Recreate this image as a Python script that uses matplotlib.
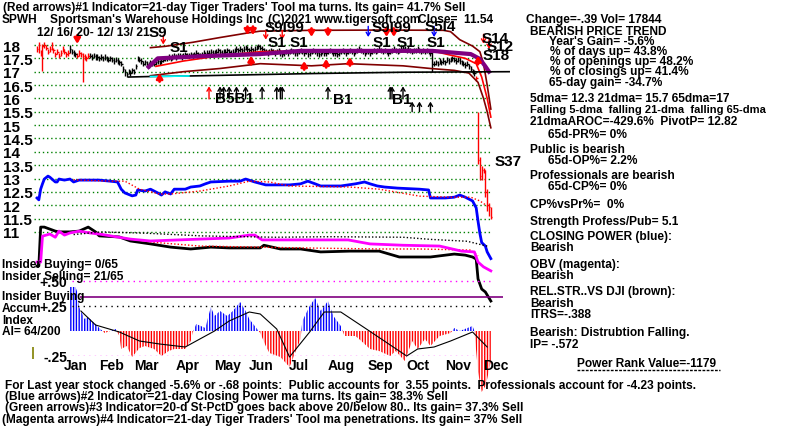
import numpy as np
import matplotlib
matplotlib.use("Agg")
import matplotlib.pyplot as plt
import matplotlib.transforms as mtransforms
from matplotlib import font_manager
from matplotlib.lines import Line2D

W, H = 800, 431
names = {f.name for f in font_manager.fontManager.ttflist}
if "Liberation Sans Narrow" in names:
  FONT, FS = "Liberation Sans Narrow", 10
else:
  FONT, FS = "Liberation Sans", 8.6
plt.rcParams["font.family"] = [FONT, "DejaVu Sans"]
plt.rcParams["font.weight"] = "bold"

# ---------------- data (trading-day index, 0 = 12/16/20) ----------------
close = [17.85, 18.0, 17.7, 17.95, 18.0, 17.9, 17.75, 17.85, 18.0, 17.8, 17.65,
         17.75, 17.6, 17.7, 17.85, 17.75, 17.65, 17.7,
         17.85, 17.75, 17.7,
         17.65, 17.6, 17.7, 17.65, 17.6, 17.55, 17.5, 17.6,
         17.6, 17.55, 17.6, 17.55, 17.55, 17.5, 17.55, 17.5, 17.55, 17.5, 17.45, 17.5, 17.45, 17.4, 17.45, 17.4, 17.35,
         17.3, 17.1, 17.0, 16.9, 17.0,
         16.95, 17.05, 17.0, 17.2,
         17.5, 17.45,
         17.4, 17.3, 17.35, 17.3, 17.25, 17.35, 17.3, 17.3, 17.35, 17.4, 17.35, 17.4,
         17.45, 17.5, 17.5, 17.55, 17.5, 17.55, 17.6, 17.55, 17.6, 17.6, 17.55, 17.6, 17.65, 17.6, 17.6, 17.65,
         17.6, 17.65, 17.7, 17.65, 17.6, 17.65,
         17.7, 17.65, 17.7, 17.7, 17.75, 17.7, 17.7, 17.75, 17.8, 17.75, 17.7, 17.75, 17.75, 17.8, 17.75, 17.7,
         17.75, 17.8, 17.85, 17.8,
         17.85, 17.8, 17.85, 17.9, 17.85, 17.8, 17.85, 17.8, 17.85, 17.9, 17.95, 17.9, 17.85, 17.8, 17.75,
         17.7, 17.75, 17.8, 17.75, 17.7, 17.75, 17.8, 17.7, 17.65, 17.7, 17.75, 17.7, 17.75, 17.8, 17.75, 17.7,
         17.7, 17.75, 17.8, 17.75,
         17.7, 17.75, 17.65, 17.7, 17.75, 17.8, 17.75, 17.7, 17.65, 17.7, 17.75, 17.7, 17.7, 17.75, 17.8,
         17.75, 17.7, 17.7, 17.65, 17.7, 17.75, 17.8, 17.75, 17.7, 17.75, 17.8, 17.75, 17.7, 17.75, 17.8,
         17.85, 17.8, 17.75, 17.7, 17.75,
         17.75, 17.7, 17.75, 17.8, 17.75, 17.8, 17.85, 17.8, 17.75, 17.8, 17.75, 17.7, 17.75, 17.8, 17.85,
         17.8, 17.75, 17.8, 17.85, 17.9, 17.85, 17.8, 17.85, 17.8, 17.75, 17.8,
         17.8, 17.85, 17.8, 17.75, 17.8, 17.75, 17.8, 17.75, 17.7,
         17.3,
         17.3, 17.35, 17.3, 17.4, 17.35, 17.4, 17.35, 17.45, 17.4, 17.45, 17.5, 17.45, 17.4, 17.45, 17.4,
         17.35, 17.3, 17.25, 17.3,
         17.2, 17.1, 17.0, 16.95,
         16.75, 13.7, 13.1, 13.3, 13.3, 12.5, 12.0, 11.93, 11.54]
spike_days = [1, 3, 8, 18, 25, 48, 216, 241, 242, 243, 244, 245, 246, 247, 248]
spike_hi = [18.1, 18.05, 18.1, 18.0, 17.7, 17.1, 17.8, 15.5, 13.8, 13.45, 13.4, 13.3, 12.6, 12.1, 11.95]
spike_lo = [17.7, 17.03, 17.8, 17.7, 16.6, 16.85, 17.0, 13.55, 12.95, 12.95, 13.2, 12.3, 11.8, 11.6, 11.5]
red_bar_spans = [(0, 17), (22, 28), (240, 248)]

ub_days = [62, 70, 85, 100, 115, 122, 150, 190, 222, 226, 231, 238, 242, 244, 246, 248]
ub_vals = [17.9, 17.95, 18.1, 18.28, 18.45, 18.52, 18.55, 18.56, 18.55, 18.5, 18.2, 17.96, 17.75, 17.3, 16.5, 15.6]
lb_days = [62, 80, 100, 122, 150, 170, 200, 215, 228, 236, 241, 244, 246, 248]
lb_vals = [16.85, 17.0, 17.12, 17.3, 17.22, 17.3, 17.22, 17.12, 17.05, 16.95, 16.6, 16.0, 15.5, 14.9]
ma21_days = [65, 80, 100, 122, 150, 190, 216, 226, 234, 240, 243, 246, 248]
ma21_vals = [17.2, 17.4, 17.6, 17.75, 17.78, 17.77, 17.78, 17.62, 17.5, 17.3, 16.8, 16.0, 15.3]
ma65_days = [61, 66, 90, 122, 144, 200, 216, 237, 242, 245, 247]
ma65_vals = [17.18, 17.5, 17.58, 17.66, 17.78, 17.78, 17.78, 17.66, 17.48, 17.2, 17.0]
sup_days = [50, 62, 83, 150, 200, 258]
sup_vals = [16.8, 16.82, 16.84, 16.93, 16.98, 17.0]

cp_days = [0, 1, 2, 3, 4, 6, 7, 10, 11, 12, 15, 18, 20, 23, 29, 34, 40, 44, 46, 48, 52, 54, 55, 59, 62, 66,
           68, 70, 73, 75, 81, 84, 89, 92, 95, 105, 111, 114, 119, 125, 138, 144, 148, 152, 155, 166, 174, 179,
           182, 186, 190, 197, 209, 214, 215, 223, 228, 231, 234, 238, 240, 241, 242, 243, 245, 246, 248]
cp_vals = [12.27, 12.2, 12.6, 12.8, 12.98, 13.09, 13.05, 12.87, 12.87, 12.98, 12.94, 12.98, 12.87, 12.94, 12.94,
           12.94, 12.9, 12.87, 12.6, 12.46, 12.35, 12.38, 12.57, 12.53, 12.6, 12.46, 12.38, 12.5, 12.42, 12.6,
           12.6, 12.68, 12.72, 12.8, 12.87, 12.9, 12.9, 12.98, 12.87, 12.76, 12.76, 12.8, 12.9, 12.8, 12.72,
           12.72, 12.8, 12.87, 12.8, 12.72, 12.68, 12.64, 12.6, 12.57, 12.27, 12.27, 12.3, 12.38, 12.3, 12.16,
           11.9, 11.4, 10.95, 10.6, 10.47, 10.25, 10.0]
cpma_days = [20, 40, 48, 56, 67, 73, 89, 105, 116, 127, 138, 171, 187, 209, 226, 237, 242, 246]
cpma_vals = [12.95, 12.9, 12.9, 12.6, 12.42, 12.42, 12.53, 12.72, 12.9, 12.87, 12.72, 12.68, 12.6, 12.34,
             12.3, 12.3, 12.16, 11.97]

rs_days = [0, 1, 2, 4, 10, 12, 18, 23, 28, 32, 34, 45, 51, 62, 73, 84, 95, 105, 122, 124, 133, 144, 155,
           171, 187, 198, 215, 228, 234, 238, 240, 241, 243, 245, 248]
rs_vals = [9.72, 9.72, 11.18, 11.18, 11.03, 11.0, 11.0, 11.03, 11.18, 11.0, 10.85, 10.81, 10.66, 10.55,
           10.43, 10.36, 10.43, 10.4, 10.4, 10.5, 10.36, 10.36, 10.25, 10.28, 10.28, 10.06, 10.06, 10.17,
           10.13, 10.06, 9.98, 9.24, 8.86, 8.75, 8.41]
rsma_days = [28, 45, 62, 89, 144, 187, 209, 237, 241]
rsma_vals = [11.0, 10.8, 10.62, 10.47, 10.4, 10.36, 10.36, 10.32, 10.1]

obv_days = [0, 2, 3, 7, 10, 12, 15, 18, 21, 23, 29, 34, 51, 62, 89, 105, 116, 119, 123, 144, 170, 182,
            200, 220, 232, 239, 241, 244, 248]
obv_vals = [9.87, 9.87, 10.84, 10.92, 10.8, 11.03, 10.88, 10.96, 11.0, 11.03, 10.96, 10.92, 10.73, 10.66,
            10.73, 10.77, 10.88, 10.88, 10.7, 10.7, 10.7, 10.55, 10.5, 10.47, 10.28, 10.25, 9.87, 9.69, 9.54]
obvma_days = [20, 35, 60, 90, 130, 160, 200, 215, 235, 247]
obvma_vals = [10.9, 11.0, 10.95, 10.85, 10.8, 10.82, 10.8, 10.72, 10.65, 10.45]

ai_days = [18, 21, 22, 23, 26, 28, 30, 32, 34, 37, 40, 43, 45, 46, 49, 52, 56, 59, 64, 68, 72, 75, 81, 84,
           85, 87, 92, 95, 97, 100, 104, 107, 111, 114, 116, 119, 122, 125, 127, 133, 138, 144, 145, 149, 152,
           155, 159, 162, 166, 168, 174, 176, 182, 187, 193, 196, 201, 205, 208, 212, 215, 220, 226, 228, 231,
           238, 239, 241, 243, 245, 246, 248]
ai_vals = [0.44, 0.44, 0.39, 0.24, 0.12, 0.14, 0.1, 0.07, 0.03, -0.02, 0.0, 0.02, -0.05, -0.18, -0.15,
           -0.26, -0.17, -0.15, -0.18, -0.25, -0.2, -0.18, -0.18, -0.1, -0.02, 0.07, 0.03, 0.24, 0.15, 0.2,
           0.15, 0.2, 0.29, 0.2, 0.12, 0.05, -0.02, -0.15, -0.22, -0.26, -0.36, -0.08, 0.1, 0.25, 0.33, 0.2,
           0.3, 0.15, 0.05, -0.05, -0.05, -0.08, -0.18, -0.2, -0.25, -0.2, -0.3, -0.1, -0.18, -0.08, -0.15,
           -0.05, -0.02, 0.03, 0.0, 0.05, 0.0, -0.41, -0.61, -0.55, -0.48, -0.3]
aima_days = [24, 32, 45, 56, 67, 81, 89, 97, 105, 116, 122, 131, 138, 149, 157, 166, 180, 202, 208, 217,
             226, 238, 246]
aima_vals = [0.2, 0.06, -0.01, -0.1, -0.13, -0.16, -0.08, 0.0, 0.1, 0.19, 0.17, 0.02, -0.26, -0.01, 0.19,
             0.19, 0.02, -0.25, -0.18, -0.16, -0.1, -0.01, -0.16]

months = ["Jan", "Feb", "Mar", "Apr", "May", "Jun", "Jul", "Aug", "Sep", "Oct", "Nov", "Dec"]
month_start = [11, 30, 49, 72, 93, 112, 134, 155, 177, 198, 219, 240]
price_ticks = [18, 17.5, 17, 16.5, 16, 15.5, 15, 14.5, 14, 13.5, 13, 12.5, 12, 11.5, 11]
price_labels = ["18", "17.5", "17", "16.5", "16", "15.5", "15", "14.5", "14", "13.5", "13", "12.5",
                "12", "11.5", "11"]

sell_days = [22, 115, 118, 150, 159, 191, 195]
sell_tips = [18.04, 18.37, 18.37, 18.3, 18.3, 18.3, 18.3]
thin_sell_days = [69, 125, 134, 244, 247]
thin_sell_tips = [18.02, 18.2, 18.2, 18.05, 17.85]
blue_sell_days = [181, 217]
buy_days = [67, 117, 146, 158, 171, 241]
buy_tips = [16.95, 17.6, 17.4, 17.48, 17.55, 17.6]
b_arrow_days = [100, 102, 105, 109, 114, 123, 131, 133, 134, 159, 193, 194, 200]
b_arrow2_days = [205, 209, 215]

# ---------------- layout ----------------
X0, DX = 37, 1.83          # pixel of day 0, pixels per day
P18, PY = 46, 26.7          # pixel of price 18, pixels per point
RED, BROWN, PURP, GRN = "#ff0000", "#800000", "#800080", "#008000"
MAG, BLUE = "#ff00ff", "#0000ff"

fig = plt.figure(figsize=(W / 100, H / 100), dpi=100)

def add_ax(x0, y0, x1, y1):
  a = fig.add_axes([x0 / W, 1 - y1 / H, (x1 - x0) / W, (y1 - y0) / H])
  a.patch.set_alpha(0)
  for s in a.spines.values():
    s.set_visible(False)
  a.set_xlim((x0 - X0) / DX, (x1 - X0) / DX)
  return a

ax = add_ax(30, 0, 515, 310)
ax.set_ylim(18 - (310 - P18) / PY, 18 + P18 / PY)
ax.set_xticks([])
ax.set_yticks(price_ticks)
ax.set_yticklabels(price_labels)
ax.tick_params(axis="y", length=0, pad=19.4, labelsize=11)
for lb in ax.get_yticklabels():
  lb.set_ha("left")
ax.hlines(price_ticks, -1.6, 248, colors=GRN, linestyles=(0, (1, 2)), lw=1)

# price bars
days = np.arange(len(close))
cl = np.array(close)
hi = cl + 0.1
lo = cl - 0.1
hi[spike_days] = spike_hi
lo[spike_days] = spike_lo
cols = ["black"] * len(days)
for a, b in red_bar_spans:
  for d in range(a, b + 1):
    cols[d] = RED
ax.vlines(days, lo, hi, colors=cols, lw=1)
ax.hlines(cl, days, days + 0.8, colors=cols, lw=1)

ax.plot(ub_days, ub_vals, color=BROWN, lw=1.2)
ax.plot(lb_days, lb_vals, color=BROWN, lw=1.2)
ax.plot(ma21_days, ma21_vals, color=RED, lw=1.2)
ax.plot(ma65_days, ma65_vals, color=PURP, lw=3)
ax.plot(sup_days, sup_vals, color="black", lw=1.2)
ax.plot(sup_days[1:3], sup_vals[1:3], color="#00ffff", lw=1.2)

ax.plot(cp_days, cp_vals, color=BLUE, lw=2)
ax.plot(cpma_days, cpma_vals, color=RED, lw=1, ls=(0, (1, 1.5)))
ax.plot(rs_days, rs_vals, color="black", lw=2)
ax.plot(rsma_days, rsma_vals, color=RED, lw=1, ls=(0, (1, 1.5)))
ax.plot(obv_days, obv_vals, color=MAG, lw=2)
ax.plot(obvma_days, obvma_vals, color="black", lw=1, ls=(0, (1, 1.5)))

# arrows
def arrow(d, tip, tail, color, lw, head=True):
  style = "-|>,head_width=0.18,head_length=0.3" if head else "->,head_width=0.15,head_length=0.25"
  ax.annotate("", xy=(d, tip), xytext=(d, tail),
              arrowprops=dict(arrowstyle=style, color=color, lw=lw, shrinkA=0, shrinkB=0))

for d, tp in zip(sell_days, sell_tips):
  arrow(d, tp, tp + 0.32, RED, 2)
for d, tp in zip(thin_sell_days, thin_sell_tips):
  arrow(d, tp, tp + 0.35, RED, 1, head=False)
for d in blue_sell_days:
  arrow(d, 18.3, 18.7, BLUE, 1, head=False)
for d, tp in zip(buy_days, buy_tips):
  arrow(d, tp, tp - 0.32, RED, 2)
arrow(94, 16.45, 15.98, RED, 1, head=False)
for d in b_arrow_days:
  arrow(d, 16.45, 15.98, "black", 1, head=False)
for d in b_arrow2_days:
  arrow(d, 15.88, 15.5, "black", 1, head=False)

# ---------------- accumulation index panel ----------------
ax2 = add_ax(30, 260, 515, 357)
ax2.set_ylim(-0.25, 0.72)
ai_d = np.array(ai_days)
ai_v = np.array(ai_vals)
ax2.fill_between(ai_d, 0, ai_v, where=ai_v >= 0, interpolate=True, facecolor="none",
                 edgecolor=BLUE, hatch="||||||", lw=0, clip_on=False)
ax2.fill_between(ai_d, 0, ai_v, where=ai_v <= 0, interpolate=True, facecolor="none",
                 edgecolor=RED, hatch="||||||", lw=0, clip_on=False)
ax2.plot(aima_days, aima_vals, color="black", lw=0.8, clip_on=False)
ax2.hlines([0.5, -0.25], 19, 247.5, colors=MAG, linestyles=(0, (1, 3)), lw=1)
ax2.hlines(0.25, 19, 247.5, colors="black", linestyles=(0, (1, 3)), lw=1)
ax2.hlines(0.34, 23.5, 254.6, colors=PURP, lw=1.2)
ax2.vlines(-2.2, -0.28, -0.16, colors="#808000", lw=1.2, clip_on=False)
ax2.set_yticks([0.5, 0.25, -0.25])
ax2.set_yticklabels(["+.50", "+.25", "-.25"])
ax2.tick_params(axis="y", length=0, pad=-27, labelsize=10)
ax2.set_xticks(month_start)
ax2.set_xticklabels(months)
ax2.tick_params(axis="x", length=0, pad=1.5, labelsize=10)
off = mtransforms.ScaledTranslation(7 / 100, 0, fig.dpi_scale_trans)
for lb in ax2.get_xticklabels():
  lb.set_ha("left")
  lb.set_transform(lb.get_transform() + off)

# ---------------- texts ----------------
def t(x, y, s, size=FS, **kw):
  fig.text(x / W, 1 - y / H, s, fontsize=size, va="center", ha="left", **kw)

t(3, 8, "(Red arrows)#1 Indicator=21-day Tiger Traders' Tool ma turns. Its gain= 41.7% Sell")
t(2, 20, "SPWH")
t(50, 20, "Sportsman's Warehouse Holdings Inc")
t(268, 20, "(C)2021 www.tigersoft.com")
t(418, 20, "Close=  11.54")
t(526, 20, "Change=-.39 Vol= 17844")
t(37, 33, "12/ 16/ 20- 12/ 13/ 21")
for x, y, s in [(149, 33, "S9"), (170, 48, "S1"), (265, 28, "S9I99"), (268, 43, "S1"), (290, 43, "S1"),
                (372, 28, "S9I99"), (373, 43, "S1"), (397, 43, "S1"), (425, 27, "S5I4"), (427, 43, "S1"),
                (482, 39, "S14"), (487, 47, "S12"), (483, 56, "S18"), (495, 162, "S37"),
                (215, 99, "B5B1"), (333, 100, "B1"), (392, 100, "B1")]:
  t(x, y, s, size=11)

t(530, 32, "BEARISH PRICE TREND")
t(549, 42, "Year's Gain= -5.6%")
t(550, 52, "% of days up= 43.8%")
t(550, 62, "% of openings up= 48.2%")
t(550, 72, "% of closings up= 41.4%")
t(549, 83, "65-day gain= -34.7%")
t(530, 99, "5dma= 12.3 21dma= 15.7 65dma=17")
t(530, 110, "Falling 5-dma  falling 21-dma  falling 65-dma", size=FS - 0.6)
t(530, 122, "21dmaAROC=-429.6%  PivotP= 12.82")
t(548, 135, "65d-PR%= 0%")
t(530, 150, "Public is bearish")
t(548, 161, "65d-OP%= 2.2%")
t(530, 176, "Professionals are bearish")
t(548, 187, "65d-CP%= 0%")
t(530, 205, "CP%vsPr%=  0%")
t(530, 222, "Strength Profess/Pub= 5.1")
t(530, 237, "CLOSING POWER (blue):")
t(530, 248, "Bearish")
t(530, 265, "OBV (magenta):")
t(530, 276, "Bearish")
t(530, 292, "REL.STR..VS DJI (brown):")
t(530, 304, "Bearish")
t(530, 315, "ITRS=-.388")
t(530, 333, "Bearish: Distrubtion Falling.")
t(530, 345, "IP= -.572")
t(577, 364, "Power Rank Value=-1179")
fig.add_artist(Line2D([577 / W, 720 / W], [1 - 371 / H, 1 - 371 / H], color="black", lw=1,
                      ls=(0, (2, 1)), transform=fig.transFigure))

t(2, 265, "Insider Buying= 0/65")
t(2, 277, "Insider Selling= 21/65")
t(2, 297, "Insider Buying")
t(2, 309, "Accum")
t(2, 321, "Index")
t(2, 332, "AI= 64/200")

t(5, 386, "For Last year stock changed -5.6% or -.68 points:  Public accounts for  3.55 points.  "
          "Professionals account for -4.23 points.")
t(5, 397, "(Blue arrows)#2 Indicator=21-day Closing Power ma turns. Its gain= 38.3% Sell")
t(5, 408, "(Green arrows)#3 Indicator=20-d St-PctD goes back above 20/below 80.. Its gain= 37.3% Sell")
t(2, 420, "(Magenta arrows)#4 Indicator=21-day Tiger Traders' Tool ma penetrations. Its gain= 37% Sell")

fig.savefig("out.png", dpi=100)
